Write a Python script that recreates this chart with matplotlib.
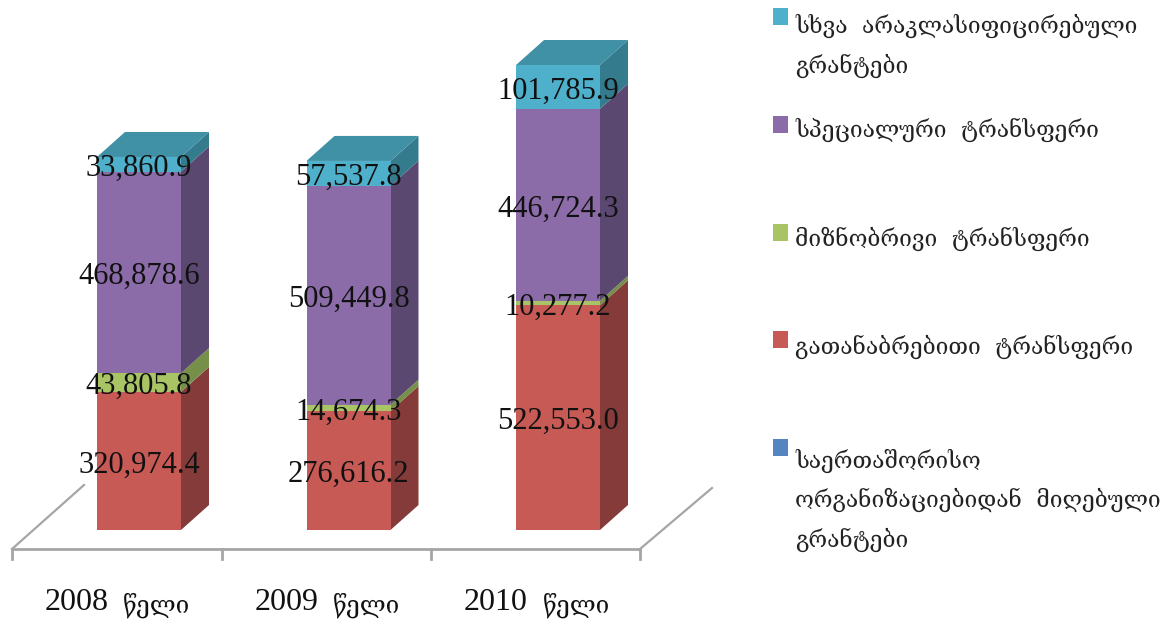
import matplotlib
matplotlib.use('Agg')
import matplotlib.pyplot as plt
from matplotlib.patches import Rectangle
from matplotlib.transforms import Affine2D

years = ['2008', '2009', '2010']
year_word = 'წელი'
series_names = ['საერთაშორისო\nორგანიზაციებიდან  მიღებული\nგრანტები',
                'გათანაბრებითი  ტრანსფერი',
                'მიზნობრივი  ტრანსფერი',
                'სპეციალური  ტრანსფერი',
                'სხვა  არაკლასიფიცირებული\nგრანტები']
intl_grants = [0.0, 0.0, 0.0]
equalizing = [320974.4, 276616.2, 522553.0]
targeted = [43805.8, 14674.3, 10277.2]
special = [468878.6, 509449.8, 446724.3]
other = [33860.9, 57537.8, 101785.9]
series = [intl_grants, equalizing, targeted, special, other]

front = ['#5585C0', '#C85A55', '#A9C465', '#8B6CA9', '#4FB0CC']
side = ['#3B5D87', '#843B39', '#76904A', '#5B4870', '#347B8E']
top_col = '#4090A6'

W, H = 1163, 625
BASE = 530       # floor of the bars, px
PX_X = 209.5     # px per category
PX_Y = 0.00043   # px per value
X0 = 139
WIDTH = 84 / PX_X
DX = 28 / PX_X
DY = 25 / PX_Y

fig = plt.figure(figsize=(W / 100, H / 100), dpi=100)
ax = fig.add_axes([0, 0, 1, 1])
ax.set_xlim((0 - X0) / PX_X, (W - X0) / PX_X)
ax.set_ylim((BASE - H) / PX_Y, BASE / PX_Y)
ax.axis('off')

# px coords with y going down, for floor and legend
pix = Affine2D().scale(1, -1).translate(0, H)

col = '#A6A6A6'
ax.plot([12, 640], [549, 549], color=col, lw=2, transform=pix)
ax.plot([12, 84], [549, 485], color=col, lw=1.6, transform=pix)
ax.plot([640, 712], [549, 488], color=col, lw=1.6, transform=pix)
for t in [12, 222, 431, 640]:
    ax.plot([t, t], [549, 559], color=col, lw=2, transform=pix)

for i in range(len(years)):
    bottom = 0
    for j in range(len(series)):
        v = series[j][i]
        if v == 0:
            continue
        r = i + WIDTH / 2
        ax.bar(i, v, WIDTH, bottom=bottom, color=front[j], zorder=3)
        ax.fill([r, r + DX, r + DX, r],
                [bottom, bottom + DY, bottom + v + DY, bottom + v],
                color=side[j], lw=0, zorder=2)
        ax.text(i, bottom + v / 2 - 4 / PX_Y, format(v, ',.1f'), ha='center', va='center',
                fontsize=22, family='Liberation Serif', color='#111111', zorder=5)
        bottom += v
    l = i - WIDTH / 2
    r = i + WIDTH / 2
    ax.fill([l, r, r + DX, l + DX], [bottom, bottom, bottom + DY, bottom + DY],
            color=top_col, lw=0, zorder=2)
    ax.text(i - 62 / PX_X, (BASE - 603) / PX_Y, years[i], ha='center', va='center',
            fontsize=23, family='Liberation Serif', color='#111111')
    ax.text(i + 18 / PX_X, (BASE - 605) / PX_Y, year_word, ha='center', va='center',
            fontsize=17.5, family=['DejaVu Serif', 'DejaVu Sans'], color='#111111')

legend_y = [447, 339, 232, 124, 16]
text_y = [500, 347, 239, 130, 46]
for j in range(len(series_names)):
    ax.add_patch(Rectangle((773, legend_y[j] - 8.5), 15, 17, color=front[j], lw=0, transform=pix))
    ax.text(795, text_y[j], series_names[j], ha='left', va='center', transform=pix,
            fontsize=16.4, linespacing=1.8, family=['DejaVu Serif', 'DejaVu Sans'], color='#222222')

fig.savefig('out.png', dpi=100)
